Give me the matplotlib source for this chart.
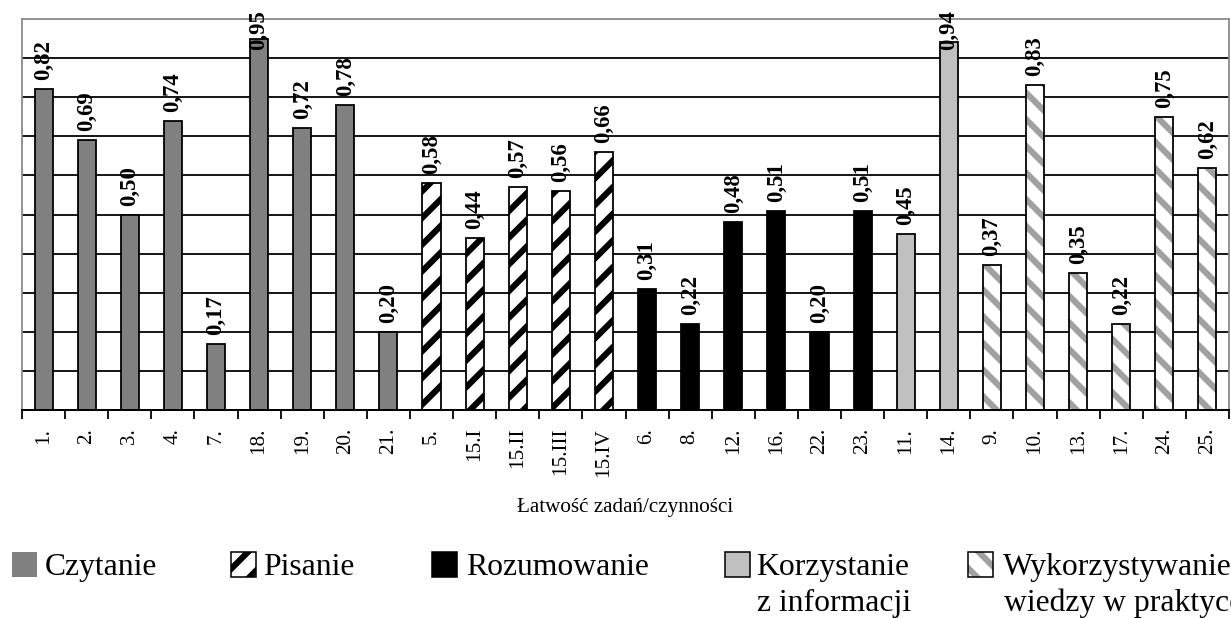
import numpy as np
import matplotlib
matplotlib.use("Agg")
import matplotlib.pyplot as plt
from matplotlib.patches import Rectangle

# ---- data -------------------------------------------------------------
czytanie_tasks = ["1.", "2.", "3.", "4.", "7.", "18.", "19.", "20.", "21."]
czytanie_values = [0.82, 0.69, 0.50, 0.74, 0.17, 0.95, 0.72, 0.78, 0.20]

pisanie_tasks = ["5.", "15.I", "15.II", "15.III", "15.IV"]
pisanie_values = [0.58, 0.44, 0.57, 0.56, 0.66]

rozumowanie_tasks = ["6.", "8.", "12.", "16.", "22.", "23."]
rozumowanie_values = [0.31, 0.22, 0.48, 0.51, 0.20, 0.51]

korzystanie_tasks = ["11.", "14."]
korzystanie_values = [0.45, 0.94]

wykorzystywanie_tasks = ["9.", "10.", "13.", "17.", "24.", "25."]
wykorzystywanie_values = [0.37, 0.83, 0.35, 0.22, 0.75, 0.62]

group_names = ["Czytanie", "Pisanie", "Rozumowanie",
               "Korzystanie\nz informacji", "Wykorzystywanie\nwiedzy w praktyce"]
x_title = "Łatwość zadań/czynności"

# ---- styles -----------------------------------------------------------
styles = [
    dict(face="#808080", hatch=None, hcolor=None),
    dict(face="white", hatch="/", hcolor="black"),
    dict(face="black", hatch=None, hcolor=None),
    dict(face="#c0c0c0", hatch=None, hcolor=None),
    dict(face="white", hatch="\\", hcolor="#a0a0a0"),
]

DPI = 80
W, H = 1231, 618
plt.rcParams["font.family"] = ["Liberation Serif", "DejaVu Serif"]
plt.rcParams["hatch.linewidth"] = 5.5

fig = plt.figure(figsize=(W / DPI, H / DPI), dpi=DPI)
ax_l, ax_r, ax_t, ax_b = 22, 1229, 19, 410
ax = fig.add_axes([ax_l / W, 1 - ax_b / H, (ax_r - ax_l) / W, (ax_b - ax_t) / H])

groups = [
    (czytanie_tasks, czytanie_values),
    (pisanie_tasks, pisanie_values),
    (rozumowanie_tasks, rozumowanie_values),
    (korzystanie_tasks, korzystanie_values),
    (wykorzystywanie_tasks, wykorzystywanie_values),
]

all_tasks = [t for tasks, _ in groups for t in tasks]
n = len(all_tasks)
bar_w = 0.42
edge_lw = 1.6

start = 0
bar_positions = []
for (tasks, vals), st in zip(groups, styles):
    xs = np.arange(start, start + len(tasks))
    if st["hatch"] is None:
        ax.bar(xs, vals, width=bar_w, color=st["face"], edgecolor="black",
               linewidth=edge_lw, zorder=2)
    else:
        ax.bar(xs, vals, width=bar_w, facecolor=st["face"], edgecolor=st["hcolor"],
               hatch=st["hatch"], linewidth=0, zorder=2)
        ax.bar(xs, vals, width=bar_w, fill=False, edgecolor="black",
               linewidth=edge_lw, zorder=3)
    bar_positions.extend(zip(xs, vals))
    start += len(tasks)

ax.set_xlim(-0.5, n - 0.5)
ax.set_ylim(0, 1)

# horizontal grid
ax.set_yticks(np.arange(0.1, 0.95, 0.1))
ax.yaxis.grid(True, color="black", linewidth=1.6)
ax.set_axisbelow(True)
ax.tick_params(axis="y", length=0, labelleft=False)

for side in ("left", "top", "right"):
    ax.spines[side].set_color("#8a8a8a")
    ax.spines[side].set_linewidth(1.6)
ax.spines["bottom"].set_color("black")
ax.spines["bottom"].set_linewidth(1.8)

# category labels at bar centres, tick marks at category boundaries
ax.set_xticks(np.arange(n))
ax.set_xticklabels(all_tasks, rotation=90, fontsize=19)
ax.tick_params(axis="x", which="major", length=0, pad=16)
ax.set_xticks(np.arange(n + 1) - 0.5, minor=True)
ax.tick_params(axis="x", which="minor", length=8, width=1.6, color="black")

# value labels
px_per_unit = (ax_b - ax_t)
gap_px = 9
label_len_px = 40
top_limit = 1 + 9 / px_per_unit
for x, v in bar_positions:
    txt = f"{v:.2f}".replace(".", ",")
    if v + (gap_px + label_len_px) / px_per_unit > top_limit:
        ax.annotate(txt, xy=(x, 1.0), xytext=(0, 9 * 72 / DPI), textcoords="offset points",
                    rotation=90, ha="center", va="top", fontsize=20.5,
                    fontweight="bold", annotation_clip=False, zorder=4)
    else:
        ax.annotate(txt, xy=(x, v), xytext=(0, gap_px * 72 / DPI), textcoords="offset points",
                    rotation=90, ha="center", va="bottom", fontsize=20.5,
                    fontweight="bold", annotation_clip=False, zorder=4)

fig.text((ax_l + ax_r) / 2 / W, 1 - 512 / H, x_title, ha="center", va="baseline",
         fontsize=19)

# legend
patch_x = [12, 231, 432, 725, 968]
text_x = [45, 263, 466, 756, 1003]
psize = 25
line_baselines = [575, 611]
for name, st, px, tx in zip(group_names, styles, patch_x, text_x):
    if st["hatch"] is None:
        ec = "none" if st["face"] == "#808080" else "black"
        rect = Rectangle((px / W, 1 - 577 / H), psize / W, psize / H,
                         transform=fig.transFigure, facecolor=st["face"],
                         edgecolor=ec, linewidth=1.4)
        fig.add_artist(rect)
    else:
        rect = Rectangle((px / W, 1 - 577 / H), psize / W, psize / H,
                         transform=fig.transFigure, facecolor=st["face"],
                         edgecolor=st["hcolor"], hatch=st["hatch"], linewidth=0)
        fig.add_artist(rect)
        rect2 = Rectangle((px / W, 1 - 577 / H), psize / W, psize / H,
                          transform=fig.transFigure, fill=False,
                          edgecolor="black", linewidth=1.4)
        fig.add_artist(rect2)
    for line, base in zip(name.split("\n"), line_baselines):
        lx = tx if base == line_baselines[0] else tx + 1
        fig.text(lx / W, 1 - base / H, line, ha="left", va="baseline", fontsize=28.5)

fig.savefig("out.png", dpi=DPI)
